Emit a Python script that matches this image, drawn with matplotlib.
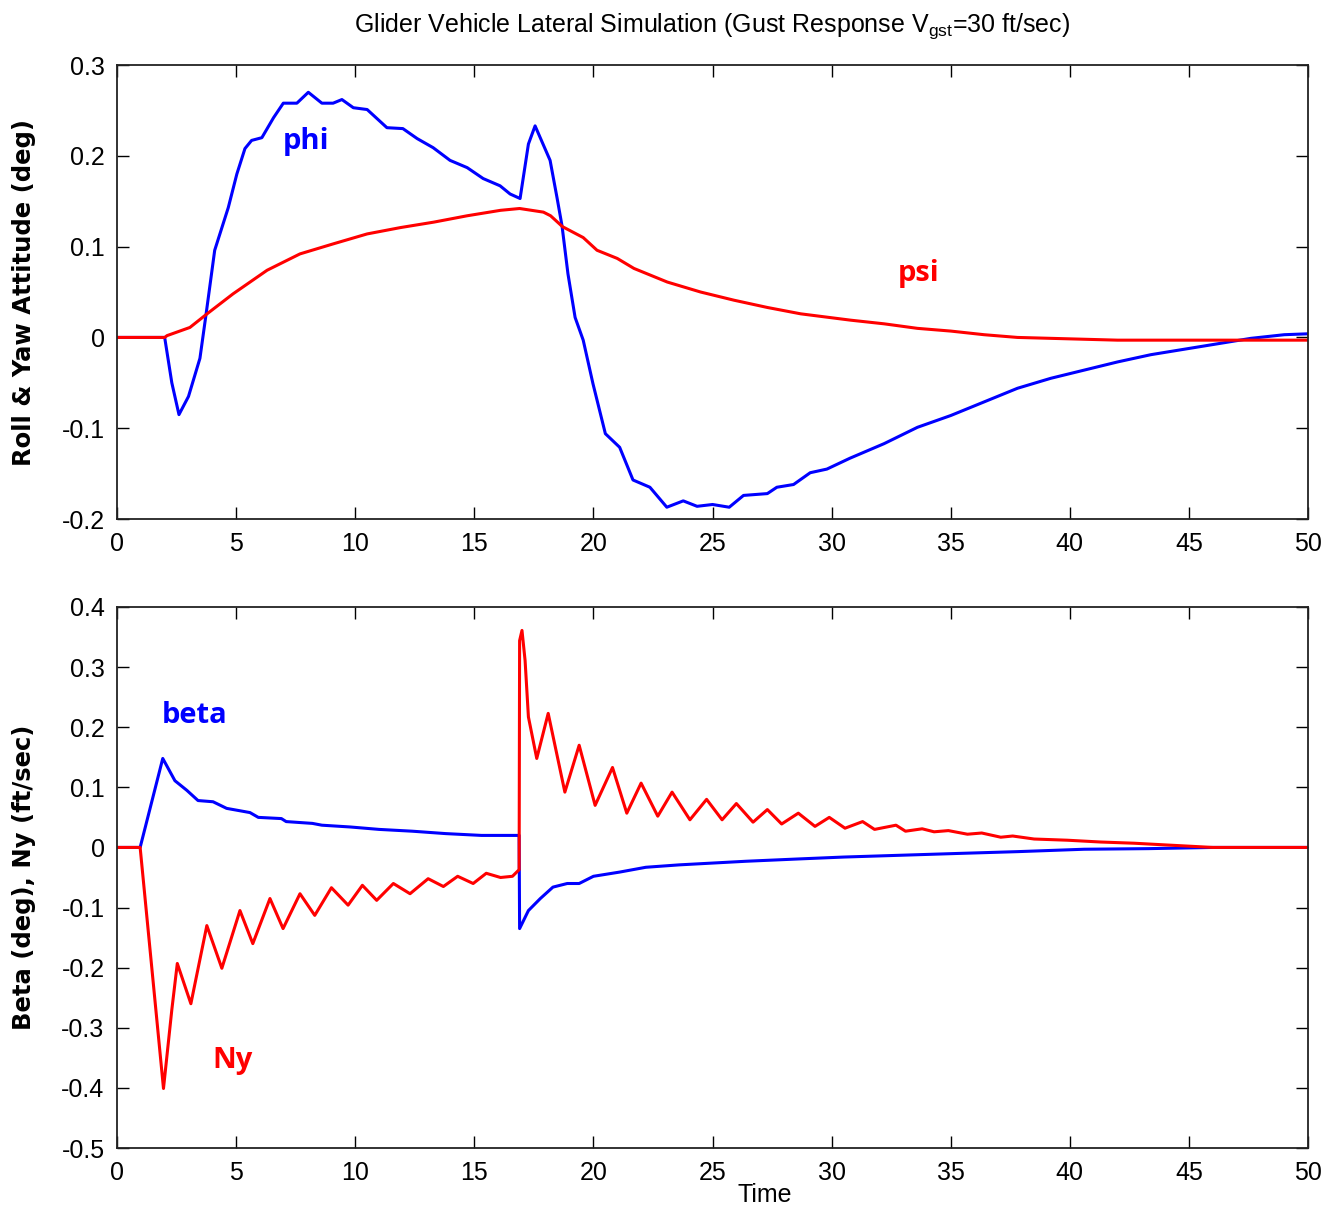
import matplotlib
matplotlib.use("Agg")
import matplotlib.pyplot as plt
from matplotlib import font_manager

# ---- data -------------------------------------------------------------
phi_t = [0, 2.0, 2.3, 2.6, 3.0, 3.48, 3.74, 4.1, 4.67, 5.03, 5.37, 5.65, 6.08,
         6.57, 6.98, 7.55, 8.03, 8.6, 9.07, 9.44, 9.92, 10.5, 11.33, 12.0,
         12.6, 13.27, 13.98, 14.7, 15.37, 16.08, 16.5, 16.92, 17.27, 17.55,
         18.18, 18.47, 18.68, 18.93, 19.23, 19.57, 19.98, 20.5, 21.1, 21.66,
         22.37, 23.08, 23.77, 24.35, 25.0, 25.7, 26.3, 27.3, 27.7, 28.4, 29.1,
         29.8, 30.77, 32.2, 33.6, 35.0, 36.4, 37.8, 39.2, 40.6, 42.0, 43.4,
         44.8, 46.2, 47.6, 49.0, 50]
phi_v = [0, 0, -0.05, -0.085, -0.065, -0.023, 0.026, 0.096, 0.143, 0.18, 0.208,
         0.217, 0.22, 0.242, 0.258, 0.258, 0.27, 0.258, 0.258, 0.262, 0.253,
         0.251, 0.231, 0.23, 0.219, 0.209, 0.195, 0.187, 0.175, 0.167, 0.158,
         0.153, 0.213, 0.233, 0.195, 0.154, 0.123, 0.070, 0.022, -0.003,
         -0.051, -0.106, -0.121, -0.157, -0.165, -0.187, -0.18, -0.186, -0.184,
         -0.187, -0.174, -0.172, -0.165, -0.162, -0.149, -0.145, -0.133,
         -0.117, -0.099, -0.086, -0.071, -0.056, -0.045, -0.036, -0.027,
         -0.019, -0.013, -0.007, -0.001, 0.003, 0.004]

psi_t = [0, 2.0, 2.1, 3.06, 3.78, 4.87, 6.3, 7.68, 9.07, 10.5, 11.9, 13.3, 14.7,
         16.1, 16.9, 17.9, 18.2, 18.7, 19.57, 20.15, 21.0, 21.7, 23.1, 24.5,
         25.9, 27.3, 28.7, 30.8, 32.2, 33.6, 35.0, 36.4, 37.8, 39.2, 42.0, 50]
psi_v = [0, 0, 0.002, 0.011, 0.026, 0.048, 0.074, 0.092, 0.103, 0.114, 0.121,
         0.127, 0.134, 0.14, 0.142, 0.138, 0.134, 0.122, 0.11, 0.096, 0.087,
         0.076, 0.061, 0.05, 0.041, 0.033, 0.026, 0.019, 0.015, 0.010, 0.007,
         0.003, 0.0, -0.001, -0.003, -0.003]

beta_t = [0, 0.97, 1.92, 2.43, 2.93, 3.4, 4.03, 4.6, 5.58, 5.93, 6.9, 7.1, 8.2,
          8.6, 9.8, 11.0, 12.4, 13.8, 15.3, 16.88, 16.9, 17.27, 17.77, 18.3,
          18.9, 19.4, 20.0, 21.1, 22.2, 23.6, 25.0, 26.4, 28.7, 30.5, 32.9,
          35.3, 37.8, 40.6, 43.3, 46.0, 50]
beta_v = [0, 0, 0.148, 0.111, 0.095, 0.078, 0.076, 0.065, 0.058, 0.05, 0.048,
          0.043, 0.040, 0.037, 0.034, 0.030, 0.027, 0.023, 0.020, 0.020,
          -0.135, -0.105, -0.085, -0.066, -0.06, -0.06, -0.048, -0.041,
          -0.033, -0.029, -0.026, -0.023, -0.019, -0.016, -0.013, -0.010,
          -0.007, -0.003, -0.002, 0.0, 0.0]

ny_t = [0, 0.97, 1.95, 2.3, 2.53, 3.1, 3.77, 4.4, 5.16, 5.7, 6.42, 6.97, 7.68,
        8.3, 9.0, 9.7, 10.3, 10.9, 11.6, 12.3, 13.06, 13.7, 14.3, 14.95, 15.5,
        16.1, 16.6, 16.88, 16.9, 17.0, 17.13, 17.27, 17.62, 18.1, 18.8, 19.4,
        20.07, 20.8, 21.4, 22.0, 22.7, 23.3, 24.05, 24.75, 25.4, 26.0, 26.7,
        27.3, 27.9, 28.6, 29.3, 29.9, 30.56, 31.3, 31.8, 32.7, 33.1, 33.8,
        34.3, 34.9, 35.7, 36.3, 37.1, 37.6, 38.5, 39.9, 41.3, 42.7, 44.1, 46.0,
        50]
ny_v = [0, 0, -0.401, -0.27, -0.193, -0.26, -0.13, -0.201, -0.105, -0.16,
        -0.085, -0.135, -0.077, -0.113, -0.067, -0.096, -0.063, -0.088, -0.06,
        -0.077, -0.052, -0.065, -0.048, -0.06, -0.043, -0.05, -0.048, -0.037,
        0.344, 0.361, 0.311, 0.217, 0.148, 0.223, 0.092, 0.17, 0.07, 0.133,
        0.057, 0.107, 0.052, 0.092, 0.046, 0.080, 0.046, 0.073, 0.042, 0.063,
        0.039, 0.057, 0.035, 0.05, 0.032, 0.043, 0.030, 0.037, 0.027, 0.031,
        0.026, 0.028, 0.022, 0.024, 0.017, 0.019, 0.014, 0.012, 0.009, 0.007,
        0.004, 0.0, 0.0]

x_ticks = [0, 5, 10, 15, 20, 25, 30, 35, 40, 45, 50]
top_yticks = [-0.2, -0.1, 0, 0.1, 0.2, 0.3]
bot_yticks = [-0.5, -0.4, -0.3, -0.2, -0.1, 0, 0.1, 0.2, 0.3, 0.4]

# ---- fonts ------------------------------------------------------------
available = {f.name for f in font_manager.fontManager.ttflist}
tick_font = "Liberation Sans Narrow" if "Liberation Sans Narrow" in available else "Liberation Sans"
label_font = "DejaVu Sans"
note_font = "Open Sans"

plt.rcParams["font.family"] = tick_font
plt.rcParams["mathtext.fontset"] = "custom"
plt.rcParams["mathtext.rm"] = tick_font

BLUE = "#0000ff"
RED = "#ff0000"
LW = 2.2
TICK_FS = 18


def fmt(v):
    return "%g" % v


def style_axes(ax, yticks):
    ax.set_xlim(0, 50)
    ax.set_xticks(x_ticks)
    ax.set_xticklabels([fmt(v) for v in x_ticks])
    ax.set_yticks(yticks)
    ax.set_yticklabels([fmt(v) for v in yticks])
    ax.tick_params(direction="in", length=8.5, width=1.0, top=True, right=True,
                   labelsize=TICK_FS, pad=9, colors="black")
    for sp in ax.spines.values():
        sp.set_linewidth(1.3)
        sp.set_color("#222222")


fig = plt.figure(figsize=(13.36, 12.09), dpi=100)
ax1 = fig.add_axes([0.0876, 0.5707, 0.8915, 0.3755])
ax2 = fig.add_axes([0.0876, 0.05045, 0.8915, 0.4475])

# roll / yaw attitude
ax1.plot(phi_t, phi_v, color=BLUE, lw=LW)
ax1.plot(psi_t, psi_v, color=RED, lw=LW)
ax1.set_ylim(-0.2, 0.3)
style_axes(ax1, top_yticks)
ax1.set_title(r"Glider Vehicle Lateral Simulation (Gust Response V$_{\mathregular{gst}}$=30 ft/sec)",
              fontsize=18, pad=24)
ax1.set_ylabel("Roll & Yaw Attitude (deg)", family=label_font, fontweight="bold",
               fontsize=17.5)
ax1.yaxis.set_label_coords(-0.068, 0.5)
ax1.text(7.93, 0.216, "phi", color=BLUE, fontsize=21, fontweight="bold",
         family=note_font, ha="center", va="center")
ax1.text(33.67, 0.070, "psi", color=RED, fontsize=21, fontweight="bold",
         family=note_font, ha="center", va="center")

# sideslip / lateral acceleration
ax2.plot(beta_t, beta_v, color=BLUE, lw=LW)
ax2.plot(ny_t, ny_v, color=RED, lw=LW)
ax2.set_ylim(-0.5, 0.4)
style_axes(ax2, bot_yticks)
ax2.set_ylabel("Beta (deg), Ny (ft/sec)", family=label_font, fontweight="bold",
               fontsize=17.5)
ax2.yaxis.set_label_coords(-0.068, 0.5)
ax2.set_xlabel("Time", fontsize=18)
ax2.xaxis.set_label_coords(0.544, -0.064)
ax2.text(3.27, 0.22, "beta", color=BLUE, fontsize=21, fontweight="bold",
         family=note_font, ha="center", va="center")
ax2.text(4.87, -0.354, "Ny", color=RED, fontsize=21, fontweight="bold",
         family=note_font, ha="center", va="center")

fig.savefig("out.png", dpi=100, facecolor="white")
